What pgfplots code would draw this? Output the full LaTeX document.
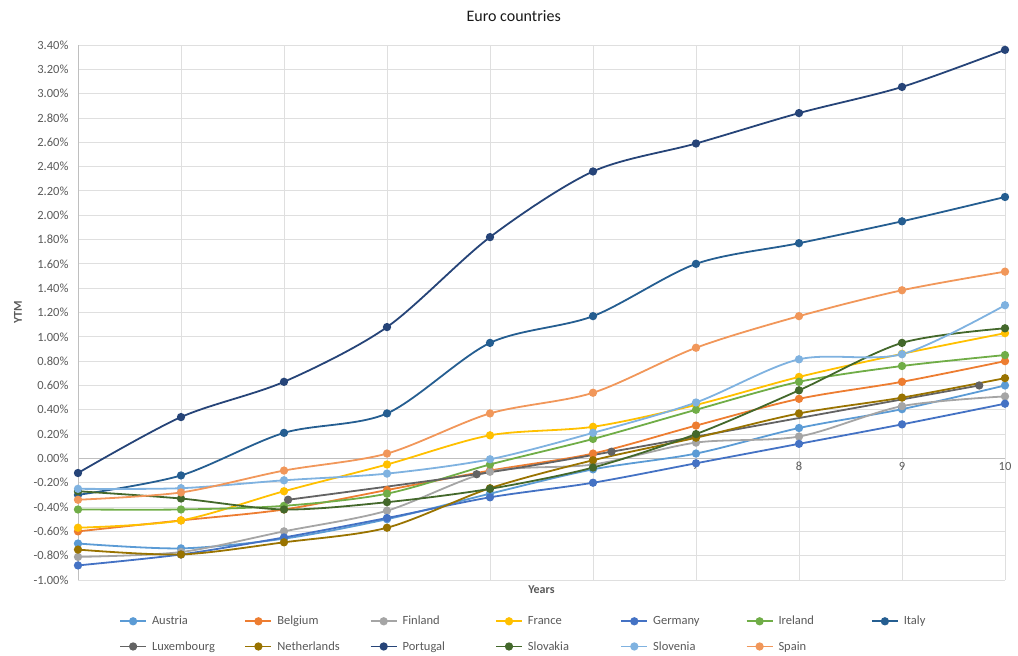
\documentclass[border=0pt]{standalone}
\usepackage{pgfplots}
\pgfplotsset{compat=1.18}
\usepackage{fontspec}
\setmainfont{Carlito}
\definecolor{cAustria}{HTML}{5B9BD5}
\definecolor{cBelgium}{HTML}{ED7D31}
\definecolor{cFinland}{HTML}{A5A5A5}
\definecolor{cFrance}{HTML}{FFC000}
\definecolor{cGermany}{HTML}{4472C4}
\definecolor{cIreland}{HTML}{70AD47}
\definecolor{cItaly}{HTML}{255E91}
\definecolor{cLuxembourg}{HTML}{636363}
\definecolor{cNetherlands}{HTML}{997300}
\definecolor{cPortugal}{HTML}{264478}
\definecolor{cSlovakia}{HTML}{43682B}
\definecolor{cSlovenia}{HTML}{7FB2E0}
\definecolor{cSpain}{HTML}{F1975A}
\definecolor{txt}{HTML}{595959}
\newcommand{\legtxt}[1]{\makebox[95.5pt][l]{\hspace{4pt}#1}}
\begin{document}
\begin{tikzpicture}
\begin{axis}[
  set layers=standard,
  scale only axis, width=927pt, height=535pt,
  xmin=1, xmax=10, ymin=-1, ymax=3.4,
  axis x line*=middle, axis y line*=left,
  axis line style={draw=gray!50, line width=0.8pt},
  xtick={1,2,3,4,5,6,7,8,9,10},
  xticklabels={,,,,5,6,7,8,9,10},
  ytick={-1,-0.8,-0.6,-0.4,-0.2,0,0.2,0.4,0.6,0.8,1,1.2,1.4,1.6,1.8,2,2.2,2.4,2.6,2.8,3,3.2,3.4},
  /pgf/number format/assume math mode=true,
  yticklabel={\pgfmathprintnumber[fixed,fixed zerofill,precision=2]{\tick}\%},
  major tick length=0pt,
  tick label style={font=\fontsize{12.5}{14}\selectfont, text=txt},
  yticklabel style={xshift=-6pt},
  grid=major,
  grid style={draw=gray!25, line width=0.9pt},
  title={Euro countries},
  title style={at={(axis description cs:0.47,1)}, anchor=center, yshift=23pt, font=\fontsize{16}{19}\selectfont, text=gray!20!black},
  xlabel={\textbf{Years}},
  xlabel style={at={(axis description cs:0.5,0)}, anchor=center, yshift=-10pt, font=\fontsize{12}{14}\selectfont, text=txt},
  ylabel={\textbf{YTM}},
  ylabel style={at={(axis description cs:-0.0647,0.5)}, anchor=center, font=\fontsize{12}{14}\selectfont, text=txt},
  legend columns=7,
  legend style={at={(axis description cs:0.041,-0.0617)}, anchor=north west, draw=none, fill=none,
    font=\fontsize{12.5}{14}\selectfont, text=txt, column sep=0pt, row sep=13pt,
    nodes={inner sep=1pt}},
  legend cell align=left,
  legend image code/.code={\draw[mark repeat=2,mark phase=2] plot coordinates {(0pt,0pt) (13pt,0pt) (26pt,0pt)};},
  every axis plot/.append style={line width=1.8pt, smooth, mark=*, mark size=3.2pt, mark options={solid}},
]
\addplot[color=cAustria] coordinates {(1,-0.70) (2,-0.74) (3,-0.66) (4,-0.50) (5,-0.29) (6,-0.09) (7,0.04) (8,0.25) (9,0.405) (10,0.60)};
\addlegendentry{\legtxt{Austria}}
\addplot[color=cBelgium] coordinates {(1,-0.60) (2,-0.51) (3,-0.42) (4,-0.26) (5,-0.10) (6,0.04) (7,0.27) (8,0.49) (9,0.63) (10,0.80)};
\addlegendentry{\legtxt{Belgium}}
\addplot[color=cFinland] coordinates {(1,-0.81) (2,-0.77) (3,-0.60) (4,-0.43) (5,-0.11) (6,-0.05) (7,0.13) (8,0.18) (9,0.43) (10,0.51)};
\addlegendentry{\legtxt{Finland}}
\addplot[color=cFrance] coordinates {(1,-0.57) (2,-0.51) (3,-0.27) (4,-0.05) (5,0.19) (6,0.26) (7,0.44) (8,0.67) (9,0.86) (10,1.03)};
\addlegendentry{\legtxt{France}}
\addplot[color=cGermany] coordinates {(1,-0.88) (2,-0.79) (3,-0.65) (4,-0.49) (5,-0.32) (6,-0.20) (7,-0.04) (8,0.12) (9,0.28) (10,0.45)};
\addlegendentry{\legtxt{Germany}}
\addplot[color=cIreland] coordinates {(1,-0.42) (2,-0.42) (3,-0.39) (4,-0.29) (5,-0.05) (6,0.16) (7,0.40) (8,0.63) (9,0.76) (10,0.85)};
\addlegendentry{\legtxt{Ireland}}
\addplot[color=cItaly] coordinates {(1,-0.30) (2,-0.14) (3,0.21) (4,0.37) (5,0.95) (6,1.17) (7,1.60) (8,1.77) (9,1.95) (10,2.15)};
\addlegendentry{\legtxt{Italy}}
\addplot[color=cLuxembourg] coordinates {(3.04,-0.34) (4.87,-0.13) (6.18,0.055) (9.75,0.60)};
\addlegendentry{\legtxt{Luxembourg}}
\addplot[color=cNetherlands] coordinates {(1,-0.75) (2,-0.79) (3,-0.69) (4,-0.57) (5,-0.245) (6,-0.015) (7,0.17) (8,0.37) (9,0.50) (10,0.66)};
\addlegendentry{\legtxt{Netherlands}}
\addplot[color=cPortugal] coordinates {(1,-0.12) (2,0.34) (3,0.63) (4,1.08) (5,1.82) (6,2.36) (7,2.59) (8,2.84) (9,3.055) (10,3.36)};
\addlegendentry{\legtxt{Portugal}}
\addplot[color=cSlovakia] coordinates {(1,-0.27) (2,-0.33) (3,-0.42) (4,-0.36) (5,-0.25) (6,-0.075) (7,0.20) (8,0.56) (9,0.95) (10,1.07)};
\addlegendentry{\legtxt{Slovakia}}
\addplot[color=cSlovenia] coordinates {(1,-0.25) (2,-0.245) (3,-0.18) (4,-0.125) (5,-0.007) (6,0.21) (7,0.46) (8,0.815) (9,0.857) (10,1.26)};
\addlegendentry{\legtxt{Slovenia}}
\addplot[color=cSpain] coordinates {(1,-0.34) (2,-0.28) (3,-0.10) (4,0.04) (5,0.37) (6,0.54) (7,0.91) (8,1.17) (9,1.383) (10,1.536)};
\addlegendentry{\legtxt{Spain}}
\end{axis}
\pgfresetboundingbox
\path[use as bounding box] (-78pt,-76pt) rectangle (940pt,580pt);
\end{tikzpicture}
\end{document}
